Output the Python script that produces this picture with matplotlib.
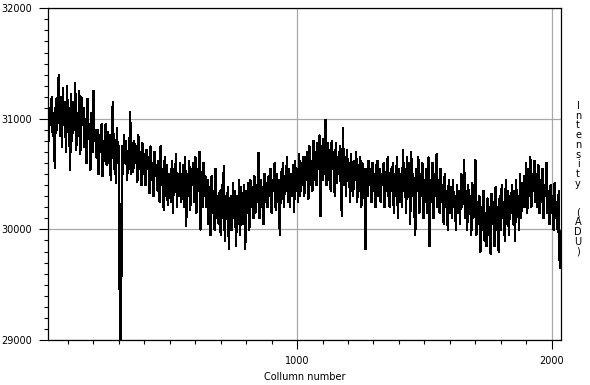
import numpy as np
import matplotlib.pyplot as plt
from matplotlib.ticker import MultipleLocator

# intensity per column (peaks / troughs, every 4th column)
intensity = [
    31150, 30800, 31100, 30950, 31200, 30850, 31050, 30560, 31180, 30900, 31250, 31400,
    30850, 31200, 30750, 31280, 30950, 31150, 30700, 31300, 30880, 31100, 30540, 31220,
    30800, 31150, 30900, 31320, 30720, 31050, 30850, 31250, 30680, 31200, 30950, 31100,
    30750, 31000, 30600, 31180, 30820, 30950, 30540, 31050, 30700, 31250, 30800, 30900,
    30650, 30900, 30500, 30850, 30700, 30950, 30480, 30800, 30620, 30950, 30580, 30880,
    30600, 30850, 30450, 30900, 31150, 30550, 30800, 30420, 30920, 30600, 30750, 29000,
    29000, 30750, 30500, 30850, 30600, 30800, 30450, 30700, 30550, 31060, 30500, 30780,
    30520, 30800, 30600, 30750, 30430, 30850, 30550, 30700, 30400, 30780, 30500, 30680,
    30400, 30720, 30550, 30650, 30330, 30750, 30450, 30600, 30300, 30700, 30480, 30580,
    30350, 30620, 30250, 30750, 30400, 30550, 30180, 30650, 30300, 30580, 30220, 30500,
    30450, 30250, 30620, 30150, 30550, 30350, 30680, 30200, 30500, 30300, 30600, 30250,
    30350, 30580, 30200, 30650, 30030, 30500, 30300, 30620, 30180, 30550, 30400, 30600,
    30250, 30650, 30150, 30550, 30350, 30700, 30000, 30520, 30200, 30600, 30300, 30480,
    30200, 30450, 30050, 30380, 29950, 30480, 30150, 30350, 30000, 30550, 30100, 30300,
    30050, 30350, 29950, 30400, 30100, 30570, 29900, 30300, 30150, 30380, 29820, 30250,
    30300, 30000, 30420, 30100, 30350, 29850, 30300, 30050, 30450, 29950, 30380, 30150,
    30050, 30400, 29820, 30350, 30150, 30420, 30000, 30450, 30200, 30380, 30100, 30480,
    30150, 30400, 30250, 30690, 30100, 30450, 30200, 30380, 30050, 30500, 30250, 30420,
    30200, 30480, 30300, 30550, 30150, 30450, 30350, 30600, 30180, 30500, 30250, 30450,
    29950, 30520, 30300, 30600, 30200, 30480, 30350, 30650, 30250, 30550, 30200, 30500,
    30300, 30580, 30160, 30620, 30350, 30550, 30250, 30680, 30300, 30600, 30400, 30650,
    30300, 30650, 30450, 30700, 30280, 30750, 30400, 30620, 30350, 30800, 30450, 30700,
    30400, 30780, 30550, 30850, 30120, 30750, 30450, 30820, 30500, 30990, 30400, 30780,
    30450, 30720, 30350, 30800, 30550, 30700, 30300, 30780, 30420, 30650, 30500, 30750,
    30350, 30120, 30920, 30400, 30650, 30300, 30720, 30450, 30600, 30250, 30680, 30400,
    30300, 30620, 30450, 30700, 30250, 30580, 30350, 30650, 30200, 30600, 30400, 30550,
    29820, 30550, 30300, 30620, 30400, 30550, 30250, 30600, 30350, 30500, 30200, 30580,
    30620, 30300, 30550, 30250, 30500, 30400, 30600, 30200, 30520, 30350, 30650, 30280,
    30200, 30550, 30350, 30600, 30150, 30500, 30300, 30650, 30100, 30550, 30250, 30500,
    30200, 30720, 30350, 30550, 30150, 30650, 30400, 30600, 30050, 30700, 30300, 30500,
    30250, 29950, 30550, 30350, 30650, 30150, 30500, 30300, 30600, 30100, 30450, 30250,
    30550, 30150, 30650, 29850, 30450, 30250, 30600, 30100, 30500, 30300, 30680, 30200,
    30450, 30150, 30550, 30250, 30400, 30050, 30500, 30200, 30350, 30000, 30450, 30150,
    30380, 30100, 30450, 30200, 30300, 30000, 30400, 30150, 30350, 30050, 30500, 30200,
    30300, 30630, 30100, 30350, 30000, 30400, 30150, 30300, 29950, 30420, 30100, 30250,
    30630, 29950, 30250, 30050, 30300, 29800, 30200, 30000, 30350, 29900, 30150, 29850,
    30280, 29950, 30200, 29780, 30320, 30050, 30250, 29850, 30380, 30000, 30200, 29800,
    30300, 30000, 30400, 30100, 30250, 29900, 30450, 30050, 30350, 29950, 30300, 30150,
    30400, 30050, 30350, 29900, 30450, 30150, 30300, 30000, 30500, 30100, 30420, 30200,
    30480, 30200, 30600, 30150, 30550, 30300, 30650, 30200, 30500, 30350, 30620, 30250,
    30500, 30200, 30580, 30150, 30450, 30250, 30550, 30100, 30400, 30300, 30600, 30150,
    30350, 30050, 30400, 30150, 30300, 30000, 30420, 30100, 30250, 29980, 30350, 29650,
]
first_col = 20
col_step = 4
columns = first_col + col_step * np.arange(len(intensity))

x_ticks = [1000, 2000]
y_ticks = [29000, 30000, 31000, 32000]
x_label = 'Collumn number'
y_label = 'Intensity (ADU)'

plt.rcParams['font.family'] = 'DejaVu Sans'
fig = plt.figure(figsize=(5.9, 3.85), dpi=100)
ax = fig.add_axes([0.0808, 0.1169, 0.8706, 0.8615])

ax.plot(columns, intensity, color='black', lw=1.0, antialiased=False, zorder=3)

ax.set_xlim(20, 2038)
ax.set_ylim(29000, 32000)
ax.set_xticks(x_ticks)
ax.set_yticks(y_ticks)
ax.xaxis.set_minor_locator(MultipleLocator(100))
ax.yaxis.set_minor_locator(MultipleLocator(100))
ax.tick_params(which='major', direction='out', length=6.5, width=0.8,
               labelsize=7, pad=5, color='black')
ax.tick_params(which='minor', direction='out', length=3.2, width=0.8, color='black')
ax.grid(True, which='major', color='#a8a8a8', lw=0.9)
ax.set_axisbelow(True)
for s in ax.spines.values():
    s.set_linewidth(0.9)
    s.set_color('black')

ax.set_xlabel(x_label, fontsize=7, labelpad=4)

# vertical stacked label on the right, one character per line
chars = list('Intensity') + [' ', ' '] + list('(ADU)')
for i, ch in enumerate(chars):
    fig.text(578 / 590, 1 - (106 + 9.7 * i) / 385, ch, fontsize=7,
             ha='center', va='center')

fig.savefig('out.png', dpi=100)
